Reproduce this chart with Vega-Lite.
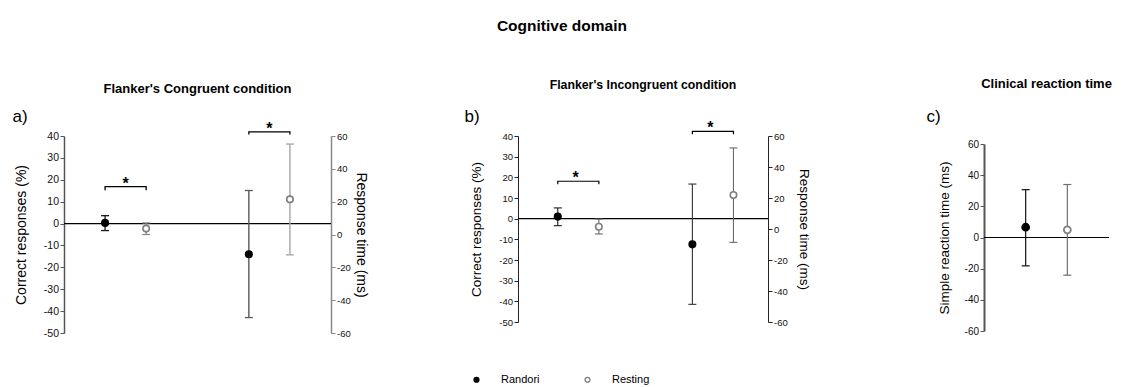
{
  "$schema": "https://vega.github.io/schema/vega-lite/v6.json",
  "padding": {"left": 12, "top": 18, "right": 0, "bottom": 0},
  "title": {"text": "Cognitive domain", "fontSize": 15.5, "fontWeight": "bold", "anchor": "middle", "offset": 44, "color": "black"},
  "config": {
    "font": "Liberation Sans",
    "view": {"stroke": null},
    "axis": {"labelFont": "Liberation Sans", "titleFont": "Liberation Sans", "grid": false, "labelOverlap": false},
    "title": {"font": "Liberation Sans"},
    "legend": {"labelFont": "Liberation Sans"}
  },
  "datasets": {
    "pts": [
      {"panel": "a", "measure": "Correct responses", "group": "Randori", "mean": 0.3, "lo": -3.2, "hi": 3.6},
      {"panel": "a", "measure": "Correct responses", "group": "Resting", "mean": -2.3, "lo": -5.0, "hi": 0.3},
      {"panel": "a", "measure": "Response time", "group": "Randori", "mean": -12.0, "lo": -50.6, "hi": 26.8},
      {"panel": "a", "measure": "Response time", "group": "Resting", "mean": 21.4, "lo": -12.4, "hi": 55.1},
      {"panel": "b", "measure": "Correct responses", "group": "Randori", "mean": 1.0, "lo": -3.4, "hi": 5.2},
      {"panel": "b", "measure": "Correct responses", "group": "Resting", "mean": -3.9, "lo": -7.4, "hi": -0.2},
      {"panel": "b", "measure": "Response time", "group": "Randori", "mean": -9.9, "lo": -48.6, "hi": 29.0},
      {"panel": "b", "measure": "Response time", "group": "Resting", "mean": 21.9, "lo": -8.6, "hi": 52.3},
      {"panel": "c", "measure": "Simple reaction time", "group": "Randori", "mean": 6.6, "lo": -18.2, "hi": 30.7},
      {"panel": "c", "measure": "Simple reaction time", "group": "Resting", "mean": 4.9, "lo": -24.2, "hi": 34.0}
    ],
    "brackets": [
      {"panel": "a", "measure": "Correct responses", "group": "Randori", "k": 1, "y": 15.2},
      {"panel": "a", "measure": "Correct responses", "group": "Randori", "k": 2, "y": 16.9},
      {"panel": "a", "measure": "Correct responses", "group": "Resting", "k": 3, "y": 16.9},
      {"panel": "a", "measure": "Correct responses", "group": "Resting", "k": 4, "y": 15.2},
      {"panel": "a", "measure": "Response time", "group": "Randori", "k": 1, "y": 60.9},
      {"panel": "a", "measure": "Response time", "group": "Randori", "k": 2, "y": 62.5},
      {"panel": "a", "measure": "Response time", "group": "Resting", "k": 3, "y": 62.5},
      {"panel": "a", "measure": "Response time", "group": "Resting", "k": 4, "y": 60.9},
      {"panel": "b", "measure": "Correct responses", "group": "Randori", "k": 1, "y": 16.7},
      {"panel": "b", "measure": "Correct responses", "group": "Randori", "k": 2, "y": 18.1},
      {"panel": "b", "measure": "Correct responses", "group": "Resting", "k": 3, "y": 18.1},
      {"panel": "b", "measure": "Correct responses", "group": "Resting", "k": 4, "y": 16.7},
      {"panel": "b", "measure": "Response time", "group": "Randori", "k": 1, "y": 61.1},
      {"panel": "b", "measure": "Response time", "group": "Randori", "k": 2, "y": 63.0},
      {"panel": "b", "measure": "Response time", "group": "Resting", "k": 3, "y": 63.0},
      {"panel": "b", "measure": "Response time", "group": "Resting", "k": 4, "y": 61.1}
    ],
    "stars": [
      {"panel": "a", "measure": "Correct responses", "y": 16.9, "label": "*"},
      {"panel": "a", "measure": "Response time", "y": 62.5, "label": "*"},
      {"panel": "b", "measure": "Correct responses", "y": 18.1, "label": "*"},
      {"panel": "b", "measure": "Response time", "y": 63.0, "label": "*"}
    ],
    "zero": [{"y": 0}]
  },
  "bounds": "flush",
  "spacing": 187,
  "hconcat": [
    {
      "width": 267,
      "height": 197,
      "title": {"text": "Flanker's Congruent condition", "fontSize": 13, "fontWeight": "bold", "anchor": "middle", "frame": "group", "offset": 11, "color": "black"},
      "layer": [
        {
          "layer": [
            {"data": {"name": "zero"}, "mark": {"type": "rule", "color": "black", "strokeWidth": 1.2}, "encoding": {"y": {"field": "y", "type": "quantitative", "scale": {"domain": [-50, 40], "nice": false, "zero": false}, "axis": {"values": [-50, -40, -30, -20, -10, 0, 10, 20, 30, 40], "tickCount": 30, "labelOverlap": false, "labelExpr": "'' + datum.value", "title": "Correct responses (%)", "domainColor": "#555", "domainWidth": 1.5, "tickColor": "#555", "tickSize": 4, "labelFontSize": 10.5, "labelColor": "#111", "labelPadding": 1.5, "titleFontSize": 14, "titleFontWeight": "normal", "titleColor": "black", "titlePadding": 15}}}},
            {
              "data": {"name": "pts"},
              "transform": [{"filter": "datum.panel === 'a' && datum.measure === 'Correct responses'"}],
              "encoding": {
                "x": {"field": "measure", "type": "nominal", "scale": {"domain": ["Correct responses", "Response time"], "paddingInner": 0.4286, "paddingOuter": 0.1429}, "axis": {"orient": "top", "domain": false, "ticks": false, "labels": false, "title": "a)", "titleFontSize": 17, "titleFontWeight": "normal", "titleColor": "black", "titleAnchor": "start", "titleAlign": "left", "titleBaseline": "bottom", "titleX": -52, "titleY": -11}},
                "xOffset": {"field": "group", "type": "nominal", "scale": {"domain": ["Randori", "Resting"], "paddingInner": 0, "paddingOuter": 0}}
              },
              "layer": [
                {"mark": {"type": "rule", "strokeWidth": 1.3}, "encoding": {"y": {"field": "lo", "type": "quantitative"}, "y2": {"field": "hi"}, "color": {"condition": {"test": "datum.group === 'Randori'", "value": "#1a1a1a"}, "value": "#8a8a8a"}}},
                {"mark": {"type": "tick", "size": 8, "thickness": 1.3, "opacity": 1}, "encoding": {"y": {"field": "lo", "type": "quantitative"}, "color": {"condition": {"test": "datum.group === 'Randori'", "value": "#1a1a1a"}, "value": "#8a8a8a"}}},
                {"mark": {"type": "tick", "size": 8, "thickness": 1.3, "opacity": 1}, "encoding": {"y": {"field": "hi", "type": "quantitative"}, "color": {"condition": {"test": "datum.group === 'Randori'", "value": "#1a1a1a"}, "value": "#8a8a8a"}}},
                {"mark": {"type": "point", "shape": "circle", "size": 42, "strokeWidth": 1.6, "opacity": 1, "filled": true}, "encoding": {
                  "y": {"field": "mean", "type": "quantitative"},
                  "fill": {"field": "group", "type": "nominal", "scale": {"domain": ["Randori", "Resting"], "range": ["black", "white"]}, "legend": {"orient": "none", "legendX": 407, "legendY": 238, "direction": "horizontal", "title": null, "symbolType": "circle", "symbolSize": 24, "symbolStrokeWidth": 1.3, "labelFontSize": 11, "labelColor": "black", "labelOffset": 19, "columnPadding": 42}},
                  "stroke": {"field": "group", "type": "nominal", "scale": {"domain": ["Randori", "Resting"], "range": ["black", "#7f7f7f"]}, "legend": {"orient": "none", "legendX": 407, "legendY": 238, "direction": "horizontal", "title": null, "symbolType": "circle", "symbolSize": 24, "symbolStrokeWidth": 1.3, "labelFontSize": 11, "labelColor": "black", "labelOffset": 19, "columnPadding": 42}}
                }}
              ]
            },
            {
              "data": {"name": "brackets"},
              "transform": [{"filter": "datum.panel === 'a' && datum.measure === 'Correct responses'"}],
              "mark": {"type": "line", "color": "black", "strokeWidth": 1.3},
              "encoding": {
                "x": {"field": "measure", "type": "nominal", "scale": {"domain": ["Correct responses", "Response time"], "paddingInner": 0.4286, "paddingOuter": 0.1429}, "axis": {"orient": "top", "domain": false, "ticks": false, "labels": false, "title": "a)", "titleFontSize": 17, "titleFontWeight": "normal", "titleColor": "black", "titleAnchor": "start", "titleAlign": "left", "titleBaseline": "bottom", "titleX": -52, "titleY": -11}},
                "xOffset": {"field": "group", "type": "nominal", "scale": {"domain": ["Randori", "Resting"], "paddingInner": 0, "paddingOuter": 0}},
                "y": {"field": "y", "type": "quantitative"},
                "order": {"field": "k", "type": "quantitative"}
              }
            },
            {
              "data": {"name": "stars"},
              "transform": [{"filter": "datum.panel === 'a' && datum.measure === 'Correct responses'"}],
              "mark": {"type": "text", "fontSize": 16, "fontWeight": "bold", "baseline": "alphabetic", "dy": 2, "color": "black"},
              "encoding": {
                "x": {"field": "measure", "type": "nominal", "scale": {"domain": ["Correct responses", "Response time"], "paddingInner": 0.4286, "paddingOuter": 0.1429}, "axis": {"orient": "top", "domain": false, "ticks": false, "labels": false, "title": "a)", "titleFontSize": 17, "titleFontWeight": "normal", "titleColor": "black", "titleAnchor": "start", "titleAlign": "left", "titleBaseline": "bottom", "titleX": -52, "titleY": -11}},
                "y": {"field": "y", "type": "quantitative"},
                "text": {"field": "label"}
              }
            }
          ]
        },
        {
          "layer": [
            {
              "data": {"name": "pts"},
              "transform": [{"filter": "datum.panel === 'a' && datum.measure === 'Response time'"}],
              "encoding": {
                "x": {"field": "measure", "type": "nominal", "scale": {"domain": ["Correct responses", "Response time"], "paddingInner": 0.4286, "paddingOuter": 0.1429}, "axis": {"orient": "top", "domain": false, "ticks": false, "labels": false, "title": "a)", "titleFontSize": 17, "titleFontWeight": "normal", "titleColor": "black", "titleAnchor": "start", "titleAlign": "left", "titleBaseline": "bottom", "titleX": -52, "titleY": -11}},
                "xOffset": {"field": "group", "type": "nominal", "scale": {"domain": ["Randori", "Resting"], "paddingInner": 0, "paddingOuter": 0}}
              },
              "layer": [
                {"mark": {"type": "rule", "strokeWidth": 1.4}, "encoding": {"y": {"field": "lo", "type": "quantitative", "scale": {"domain": [-60, 60], "nice": false, "zero": false}, "axis": {"values": [-60, -40, -20, 0, 20, 40, 60], "tickCount": 30, "labelOverlap": false, "labelExpr": "'' + datum.value", "title": "Response time (ms)", "domainColor": "#888", "domainWidth": 1.5, "tickColor": "#888", "tickSize": 4, "labelFontSize": 9.5, "labelColor": "#111", "labelPadding": 1.5, "titleFontSize": 14, "titleFontWeight": "normal", "titleColor": "black", "titlePadding": 3}}, "y2": {"field": "hi"}, "color": {"condition": {"test": "datum.group === 'Randori'", "value": "#5a5a5a"}, "value": "#a6a6a6"}}},
                {"mark": {"type": "tick", "size": 8, "thickness": 1.3, "opacity": 1}, "encoding": {"y": {"field": "lo", "type": "quantitative"}, "color": {"condition": {"test": "datum.group === 'Randori'", "value": "#5a5a5a"}, "value": "#a6a6a6"}}},
                {"mark": {"type": "tick", "size": 8, "thickness": 1.3, "opacity": 1}, "encoding": {"y": {"field": "hi", "type": "quantitative"}, "color": {"condition": {"test": "datum.group === 'Randori'", "value": "#5a5a5a"}, "value": "#a6a6a6"}}},
                {"mark": {"type": "point", "shape": "circle", "size": 42, "strokeWidth": 1.6, "opacity": 1, "filled": true}, "encoding": {
                  "y": {"field": "mean", "type": "quantitative"},
                  "fill": {"field": "group", "type": "nominal", "scale": {"domain": ["Randori", "Resting"], "range": ["black", "white"]}},
                  "stroke": {"field": "group", "type": "nominal", "scale": {"domain": ["Randori", "Resting"], "range": ["black", "#7f7f7f"]}}
                }}
              ]
            },
            {
              "data": {"name": "brackets"},
              "transform": [{"filter": "datum.panel === 'a' && datum.measure === 'Response time'"}],
              "mark": {"type": "line", "color": "black", "strokeWidth": 1.3, "clip": false},
              "encoding": {
                "x": {"field": "measure", "type": "nominal", "scale": {"domain": ["Correct responses", "Response time"], "paddingInner": 0.4286, "paddingOuter": 0.1429}, "axis": {"orient": "top", "domain": false, "ticks": false, "labels": false, "title": "a)", "titleFontSize": 17, "titleFontWeight": "normal", "titleColor": "black", "titleAnchor": "start", "titleAlign": "left", "titleBaseline": "bottom", "titleX": -52, "titleY": -11}},
                "xOffset": {"field": "group", "type": "nominal", "scale": {"domain": ["Randori", "Resting"], "paddingInner": 0, "paddingOuter": 0}},
                "y": {"field": "y", "type": "quantitative"},
                "order": {"field": "k", "type": "quantitative"}
              }
            },
            {
              "data": {"name": "stars"},
              "transform": [{"filter": "datum.panel === 'a' && datum.measure === 'Response time'"}],
              "mark": {"type": "text", "fontSize": 16, "fontWeight": "bold", "baseline": "alphabetic", "dy": 2, "color": "black"},
              "encoding": {
                "x": {"field": "measure", "type": "nominal", "scale": {"domain": ["Correct responses", "Response time"], "paddingInner": 0.4286, "paddingOuter": 0.1429}, "axis": {"orient": "top", "domain": false, "ticks": false, "labels": false, "title": "a)", "titleFontSize": 17, "titleFontWeight": "normal", "titleColor": "black", "titleAnchor": "start", "titleAlign": "left", "titleBaseline": "bottom", "titleX": -52, "titleY": -11}},
                "y": {"field": "y", "type": "quantitative"},
                "text": {"field": "label"}
              }
            }
          ]
        }
      ],
      "resolve": {"scale": {"y": "independent"}}
    },
    {
      "bounds": "flush",
      "spacing": 216,
      "hconcat": [
        {
          "width": 250,
          "height": 186,
          "title": {"text": "Flanker's Incongruent condition", "fontSize": 12.3, "fontWeight": "bold", "anchor": "middle", "frame": "group", "offset": 16, "color": "black"},
          "layer": [
            {
              "layer": [
                {"data": {"name": "zero"}, "mark": {"type": "rule", "color": "black", "strokeWidth": 1.2}, "encoding": {"y": {"field": "y", "type": "quantitative", "scale": {"domain": [-50, 40], "nice": false, "zero": false}, "axis": {"values": [-50, -40, -30, -20, -10, 0, 10, 20, 30, 40], "tickCount": 30, "labelOverlap": false, "labelExpr": "'' + datum.value", "title": "Correct responses (%)", "domainColor": "#222", "domainWidth": 1, "tickColor": "#222", "tickSize": 4, "labelFontSize": 9.5, "labelColor": "#111", "labelPadding": 1.5, "titleFontSize": 13.5, "titleFontWeight": "normal", "titleColor": "black", "titlePadding": 15}}}},
                {
                  "data": {"name": "pts"},
                  "transform": [{"filter": "datum.panel === 'b' && datum.measure === 'Correct responses'"}],
                  "encoding": {
                    "x": {"field": "measure", "type": "nominal", "scale": {"domain": ["Correct responses", "Response time"], "paddingInner": 0.4286, "paddingOuter": 0.1429}, "axis": {"orient": "top", "domain": false, "ticks": false, "labels": false, "title": "b)", "titleFontSize": 17, "titleFontWeight": "normal", "titleColor": "black", "titleAnchor": "start", "titleAlign": "left", "titleBaseline": "bottom", "titleX": -54, "titleY": -11}},
                    "xOffset": {"field": "group", "type": "nominal", "scale": {"domain": ["Randori", "Resting"], "paddingInner": 0, "paddingOuter": 0}}
                  },
                  "layer": [
                    {"mark": {"type": "rule", "strokeWidth": 1.1}, "encoding": {"y": {"field": "lo", "type": "quantitative"}, "y2": {"field": "hi"}, "color": {"condition": {"test": "datum.group === 'Randori'", "value": "#1a1a1a"}, "value": "#6a6a6a"}}},
                    {"mark": {"type": "tick", "size": 8, "thickness": 1.1, "opacity": 1}, "encoding": {"y": {"field": "lo", "type": "quantitative"}, "color": {"condition": {"test": "datum.group === 'Randori'", "value": "#1a1a1a"}, "value": "#6a6a6a"}}},
                    {"mark": {"type": "tick", "size": 8, "thickness": 1.1, "opacity": 1}, "encoding": {"y": {"field": "hi", "type": "quantitative"}, "color": {"condition": {"test": "datum.group === 'Randori'", "value": "#1a1a1a"}, "value": "#6a6a6a"}}},
                    {"mark": {"type": "point", "shape": "circle", "size": 42, "strokeWidth": 1.6, "opacity": 1, "filled": true}, "encoding": {
                      "y": {"field": "mean", "type": "quantitative"},
                      "fill": {"field": "group", "type": "nominal", "scale": {"domain": ["Randori", "Resting"], "range": ["black", "white"]}},
                      "stroke": {"field": "group", "type": "nominal", "scale": {"domain": ["Randori", "Resting"], "range": ["black", "#7f7f7f"]}}
                    }}
                  ]
                },
                {
                  "data": {"name": "brackets"},
                  "transform": [{"filter": "datum.panel === 'b' && datum.measure === 'Correct responses'"}],
                  "mark": {"type": "line", "color": "black", "strokeWidth": 1.2},
                  "encoding": {
                    "x": {"field": "measure", "type": "nominal", "scale": {"domain": ["Correct responses", "Response time"], "paddingInner": 0.4286, "paddingOuter": 0.1429}, "axis": {"orient": "top", "domain": false, "ticks": false, "labels": false, "title": "b)", "titleFontSize": 17, "titleFontWeight": "normal", "titleColor": "black", "titleAnchor": "start", "titleAlign": "left", "titleBaseline": "bottom", "titleX": -54, "titleY": -11}},
                    "xOffset": {"field": "group", "type": "nominal", "scale": {"domain": ["Randori", "Resting"], "paddingInner": 0, "paddingOuter": 0}},
                    "y": {"field": "y", "type": "quantitative"},
                    "order": {"field": "k", "type": "quantitative"}
                  }
                },
                {
                  "data": {"name": "stars"},
                  "transform": [{"filter": "datum.panel === 'b' && datum.measure === 'Correct responses'"}],
                  "mark": {"type": "text", "fontSize": 16, "fontWeight": "bold", "baseline": "alphabetic", "dy": 2, "color": "black"},
                  "encoding": {
                    "x": {"field": "measure", "type": "nominal", "scale": {"domain": ["Correct responses", "Response time"], "paddingInner": 0.4286, "paddingOuter": 0.1429}, "axis": {"orient": "top", "domain": false, "ticks": false, "labels": false, "title": "b)", "titleFontSize": 17, "titleFontWeight": "normal", "titleColor": "black", "titleAnchor": "start", "titleAlign": "left", "titleBaseline": "bottom", "titleX": -54, "titleY": -11}},
                    "y": {"field": "y", "type": "quantitative"},
                    "text": {"field": "label"}
                  }
                }
              ]
            },
            {
              "layer": [
                {
                  "data": {"name": "pts"},
                  "transform": [{"filter": "datum.panel === 'b' && datum.measure === 'Response time'"}],
                  "encoding": {
                    "x": {"field": "measure", "type": "nominal", "scale": {"domain": ["Correct responses", "Response time"], "paddingInner": 0.4286, "paddingOuter": 0.1429}, "axis": {"orient": "top", "domain": false, "ticks": false, "labels": false, "title": "b)", "titleFontSize": 17, "titleFontWeight": "normal", "titleColor": "black", "titleAnchor": "start", "titleAlign": "left", "titleBaseline": "bottom", "titleX": -54, "titleY": -11}},
                    "xOffset": {"field": "group", "type": "nominal", "scale": {"domain": ["Randori", "Resting"], "paddingInner": 0, "paddingOuter": 0}}
                  },
                  "layer": [
                    {"mark": {"type": "rule", "strokeWidth": 1.1}, "encoding": {"y": {"field": "lo", "type": "quantitative", "scale": {"domain": [-60, 60], "nice": false, "zero": false}, "axis": {"values": [-60, -40, -20, 0, 20, 40, 60], "tickCount": 30, "labelOverlap": false, "labelExpr": "'' + datum.value", "title": "Response time (ms)", "domainColor": "#222", "domainWidth": 1, "tickColor": "#222", "tickSize": 4, "labelFontSize": 9.5, "labelColor": "#111", "labelPadding": 1.5, "titleFontSize": 13.5, "titleFontWeight": "normal", "titleColor": "black", "titlePadding": 9}}, "y2": {"field": "hi"}, "color": {"condition": {"test": "datum.group === 'Randori'", "value": "#333333"}, "value": "#6a6a6a"}}},
                    {"mark": {"type": "tick", "size": 8, "thickness": 1.1, "opacity": 1}, "encoding": {"y": {"field": "lo", "type": "quantitative"}, "color": {"condition": {"test": "datum.group === 'Randori'", "value": "#333333"}, "value": "#6a6a6a"}}},
                    {"mark": {"type": "tick", "size": 8, "thickness": 1.1, "opacity": 1}, "encoding": {"y": {"field": "hi", "type": "quantitative"}, "color": {"condition": {"test": "datum.group === 'Randori'", "value": "#333333"}, "value": "#6a6a6a"}}},
                    {"mark": {"type": "point", "shape": "circle", "size": 42, "strokeWidth": 1.6, "opacity": 1, "filled": true}, "encoding": {
                      "y": {"field": "mean", "type": "quantitative"},
                      "fill": {"field": "group", "type": "nominal", "scale": {"domain": ["Randori", "Resting"], "range": ["black", "white"]}},
                      "stroke": {"field": "group", "type": "nominal", "scale": {"domain": ["Randori", "Resting"], "range": ["black", "#7f7f7f"]}}
                    }}
                  ]
                },
                {
                  "data": {"name": "brackets"},
                  "transform": [{"filter": "datum.panel === 'b' && datum.measure === 'Response time'"}],
                  "mark": {"type": "line", "color": "black", "strokeWidth": 1.2, "clip": false},
                  "encoding": {
                    "x": {"field": "measure", "type": "nominal", "scale": {"domain": ["Correct responses", "Response time"], "paddingInner": 0.4286, "paddingOuter": 0.1429}, "axis": {"orient": "top", "domain": false, "ticks": false, "labels": false, "title": "b)", "titleFontSize": 17, "titleFontWeight": "normal", "titleColor": "black", "titleAnchor": "start", "titleAlign": "left", "titleBaseline": "bottom", "titleX": -54, "titleY": -11}},
                    "xOffset": {"field": "group", "type": "nominal", "scale": {"domain": ["Randori", "Resting"], "paddingInner": 0, "paddingOuter": 0}},
                    "y": {"field": "y", "type": "quantitative"},
                    "order": {"field": "k", "type": "quantitative"}
                  }
                },
                {
                  "data": {"name": "stars"},
                  "transform": [{"filter": "datum.panel === 'b' && datum.measure === 'Response time'"}],
                  "mark": {"type": "text", "fontSize": 16, "fontWeight": "bold", "baseline": "alphabetic", "dy": 2, "color": "black"},
                  "encoding": {
                    "x": {"field": "measure", "type": "nominal", "scale": {"domain": ["Correct responses", "Response time"], "paddingInner": 0.4286, "paddingOuter": 0.1429}, "axis": {"orient": "top", "domain": false, "ticks": false, "labels": false, "title": "b)", "titleFontSize": 17, "titleFontWeight": "normal", "titleColor": "black", "titleAnchor": "start", "titleAlign": "left", "titleBaseline": "bottom", "titleX": -54, "titleY": -11}},
                    "y": {"field": "y", "type": "quantitative"},
                    "text": {"field": "label"}
                  }
                }
              ]
            }
          ],
          "resolve": {"scale": {"y": "independent"}}
        },
        {
          "width": 125,
          "height": 195,
          "title": {"text": "Clinical reaction time", "fontSize": 13, "fontWeight": "bold", "anchor": "middle", "frame": "group", "offset": 16, "color": "black"},
          "layer": [
            {"data": {"name": "zero"}, "mark": {"type": "rule", "color": "black", "strokeWidth": 1.2}, "encoding": {"y": {"field": "y", "type": "quantitative", "scale": {"domain": [-60, 60], "nice": false, "zero": false, "range": [195, 8]}, "axis": {"values": [-60, -40, -20, 0, 20, 40, 60], "tickCount": 30, "labelOverlap": false, "labelExpr": "'' + datum.value", "title": "Simple reaction time (ms)", "domainColor": "#555", "domainWidth": 2, "tickColor": "#555", "tickSize": 4, "labelFontSize": 10, "labelColor": "#111", "labelPadding": 1.5, "titleFontSize": 13.5, "titleFontWeight": "normal", "titleColor": "black", "titlePadding": 13}}}},
            {
              "data": {"name": "pts"},
              "transform": [{"filter": "datum.panel === 'c'"}],
              "encoding": {
                "x": {"field": "group", "type": "nominal", "scale": {"domain": ["Randori", "Resting"], "paddingInner": 0, "paddingOuter": 0.5}, "axis": {"orient": "top", "domain": false, "ticks": false, "labels": false, "title": "c)", "titleFontSize": 17, "titleFontWeight": "normal", "titleColor": "black", "titleAnchor": "start", "titleAlign": "left", "titleBaseline": "bottom", "titleX": -58, "titleY": -11}}
              },
              "layer": [
                {"mark": {"type": "rule", "strokeWidth": 1.2}, "encoding": {"y": {"field": "lo", "type": "quantitative"}, "y2": {"field": "hi"}, "color": {"condition": {"test": "datum.group === 'Randori'", "value": "#111111"}, "value": "#707070"}}},
                {"mark": {"type": "tick", "size": 8, "thickness": 1.2, "opacity": 1}, "encoding": {"y": {"field": "lo", "type": "quantitative"}, "color": {"condition": {"test": "datum.group === 'Randori'", "value": "#111111"}, "value": "#707070"}}},
                {"mark": {"type": "tick", "size": 8, "thickness": 1.2, "opacity": 1}, "encoding": {"y": {"field": "hi", "type": "quantitative"}, "color": {"condition": {"test": "datum.group === 'Randori'", "value": "#111111"}, "value": "#707070"}}},
                {"mark": {"type": "point", "shape": "circle", "size": 48, "strokeWidth": 1.8, "opacity": 1, "filled": true}, "encoding": {
                  "y": {"field": "mean", "type": "quantitative"},
                  "fill": {"field": "group", "type": "nominal", "scale": {"domain": ["Randori", "Resting"], "range": ["black", "white"]}},
                  "stroke": {"field": "group", "type": "nominal", "scale": {"domain": ["Randori", "Resting"], "range": ["black", "#7f7f7f"]}}
                }}
              ]
            }
          ]
        }
      ]
    }
  ]
}
